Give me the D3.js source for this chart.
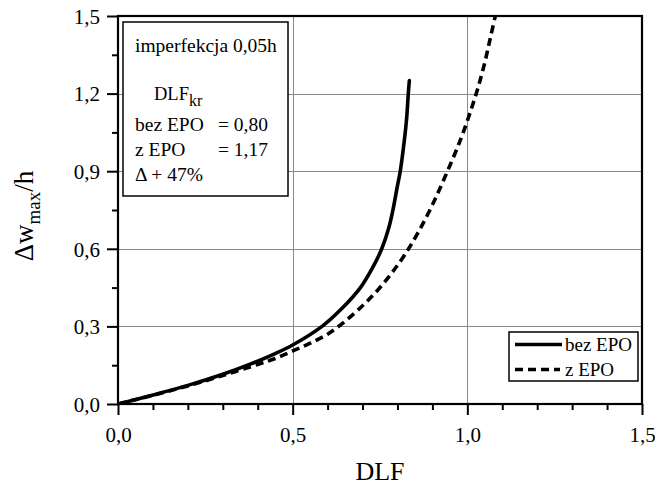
<!DOCTYPE html>
<html>
<head>
<meta charset="utf-8">
<script src="https://cdn.jsdelivr.net/npm/d3@7"></script>
<style>
  html, body { margin: 0; padding: 0; background: #fff; }
  svg { display: block; }
  svg text { font-family: "Liberation Serif", "Times New Roman", Tinos, serif; fill: #000; }
</style>
</head>
<body>
<svg id="chart" width="655" height="485"></svg>
<script>
// ---- data ----
const seriesNames = ["bez EPO", "z EPO"];
const bezEPO_x = [0, 0.1, 0.2, 0.3, 0.38, 0.45, 0.5, 0.584, 0.64, 0.694, 0.73, 0.755, 0.775, 0.787, 0.798, 0.808, 0.818, 0.826, 0.831, 0.834];
const bezEPO_y = [0, 0.035, 0.072, 0.115, 0.155, 0.195, 0.228, 0.3, 0.368, 0.45, 0.53, 0.6, 0.68, 0.75, 0.83, 0.9, 1.0, 1.1, 1.2, 1.25];
const zEPO_x = [0, 0.1, 0.2, 0.3, 0.4, 0.45, 0.5, 0.55, 0.6, 0.65, 0.7, 0.74, 0.78, 0.82, 0.86, 0.9, 0.94, 0.98, 1.01, 1.03, 1.05, 1.065, 1.08];
const zEPO_y = [0, 0.034, 0.07, 0.11, 0.153, 0.176, 0.205, 0.235, 0.27, 0.32, 0.38, 0.435, 0.5, 0.575, 0.665, 0.77, 0.89, 1.02, 1.135, 1.22, 1.32, 1.41, 1.5];
const xMajorTicks = [0, 0.5, 1.0, 1.5];
const xTickLabels = ["0,0", "0,5", "1,0", "1,5"];
const xMinorTicks = [0.1, 0.2, 0.3, 0.4, 0.6, 0.7, 0.8, 0.9, 1.1, 1.2, 1.3, 1.4];
const yMajorTicks = [0, 0.3, 0.6, 0.9, 1.2, 1.5];
const yTickLabels = ["0,0", "0,3", "0,6", "0,9", "1,2", "1,5"];
const yMinorTicks = [0.15, 0.45, 0.75, 1.05, 1.35];
const insetLines = ["imperfekcja 0,05h", "bez EPO", "= 0,80", "z EPO", "= 1,17", "\u0394 + 47%"];

// ---- layout ----
const FONT = "'Liberation Serif', 'Times New Roman', Tinos, serif";
const svg = d3.select("#chart");
const L = 118, R = 642, T = 16, B = 404;
const x = d3.scaleLinear().domain([0, 1.5]).range([L, R]);
const y = d3.scaleLinear().domain([0, 1.5]).range([B, T]);

// grid
const grid = svg.append("g").attr("stroke", "#8a8a8a").attr("stroke-width", 1);
grid.selectAll(".gx").data(xMajorTicks.filter(d => d > 0 && d < 1.5)).enter().append("line")
  .attr("x1", d => Math.round(x(d)) + 0.5).attr("x2", d => Math.round(x(d)) + 0.5)
  .attr("y1", T).attr("y2", B);
grid.selectAll(".gy").data(yMajorTicks.filter(d => d > 0 && d < 1.5)).enter().append("line")
  .attr("y1", d => Math.round(y(d)) + 0.5).attr("y2", d => Math.round(y(d)) + 0.5)
  .attr("x1", L).attr("x2", R);

// axes ticks
const xAxisMajor = d3.axisBottom(x).tickValues(xMajorTicks).tickSize(11).tickPadding(4)
  .tickFormat((d, i) => xTickLabels[i]);
const xAxisMinor = d3.axisBottom(x).tickValues(xMinorTicks).tickSize(6).tickFormat("");
const yAxisMajor = d3.axisLeft(y).tickValues(yMajorTicks).tickSize(11).tickPadding(5)
  .tickFormat((d, i) => yTickLabels[i]);
const yAxisMinor = d3.axisLeft(y).tickValues(yMinorTicks).tickSize(6).tickFormat("");

function styleAxis(g) {
  g.attr("font-family", FONT);
  g.select(".domain").remove();
  g.selectAll(".tick line").attr("stroke", "#000").attr("stroke-width", 2);
  g.selectAll("text").attr("font-family", FONT).attr("font-size", 21).attr("fill", "#000");
}
svg.append("g").attr("transform", `translate(0,${B})`).call(xAxisMajor).call(styleAxis)
  .selectAll("text").attr("dy", null).attr("y", 38);
svg.append("g").attr("transform", `translate(0,${B})`).call(xAxisMinor).call(styleAxis);
svg.append("g").attr("transform", `translate(${L},0)`).call(yAxisMajor).call(styleAxis)
  .selectAll("text").attr("dy", "0.35em").attr("x", -18);
svg.append("g").attr("transform", `translate(${L},0)`).call(yAxisMinor).call(styleAxis);

// curves
const line = d3.line().x(d => x(d[0])).y(d => y(d[1])).curve(d3.curveCatmullRom.alpha(0.5));
const bezData = bezEPO_x.map((v, i) => [v, bezEPO_y[i]]);
const zData = zEPO_x.map((v, i) => [v, zEPO_y[i]]);
svg.append("defs").append("clipPath").attr("id", "clip")
  .append("rect").attr("x", L).attr("y", T).attr("width", R - L).attr("height", B - T);
const curves = svg.append("g").attr("clip-path", "url(#clip)");
curves.append("path").datum(bezData).attr("d", line)
  .attr("fill", "none").attr("stroke", "#000").attr("stroke-width", 3.6)
  .attr("stroke-linecap", "round");
curves.append("path").datum(zData).attr("d", line)
  .attr("fill", "none").attr("stroke", "#000").attr("stroke-width", 3.6)
  .attr("stroke-dasharray", "8,5");

// frame
svg.append("rect").attr("x", L).attr("y", T).attr("width", R - L).attr("height", B - T)
  .attr("fill", "none").attr("stroke", "#000").attr("stroke-width", 2.2);

// axis titles
svg.append("text").attr("x", (L + R) / 2).attr("y", 480).attr("text-anchor", "middle")
  .attr("font-family", FONT).attr("font-size", 26).text("DLF");
const yt = svg.append("text").attr("transform", "translate(33,216) rotate(-90)")
  .attr("text-anchor", "middle").attr("font-family", FONT).attr("font-size", 27);
yt.append("tspan").text("\u0394w");
yt.append("tspan").attr("font-size", 19).attr("dy", 7).text("max");
yt.append("tspan").attr("dy", -7).text("/h");

// inset box
svg.append("rect").attr("x", 123).attr("y", 22).attr("width", 165).attr("height", 174)
  .attr("fill", "#fff").attr("stroke", "#000").attr("stroke-width", 1.5);
const ins = svg.append("g").attr("font-size", 19.5).attr("font-family", FONT);
ins.append("text").attr("x", 135).attr("y", 52).text(insetLines[0]);
const dlf = ins.append("text").attr("x", 154).attr("y", 100).attr("font-size", 18.5);
dlf.append("tspan").text("DLF");
dlf.append("tspan").attr("font-size", 16).attr("dy", 6).text("kr");
ins.append("text").attr("x", 135).attr("y", 131).text(insetLines[1]);
ins.append("text").attr("x", 218).attr("y", 131).text(insetLines[2]);
ins.append("text").attr("x", 135).attr("y", 156).text(insetLines[3]);
ins.append("text").attr("x", 218).attr("y", 156).text(insetLines[4]);
ins.append("text").attr("x", 135).attr("y", 181).text(insetLines[5]);

// legend
const lg = svg.append("g").attr("font-family", FONT);
lg.append("rect").attr("x", 509).attr("y", 332).attr("width", 129).attr("height", 49)
  .attr("fill", "#fff").attr("stroke", "#000").attr("stroke-width", 1.5);
lg.append("line").attr("x1", 515).attr("x2", 562).attr("y1", 344.5).attr("y2", 344.5)
  .attr("stroke", "#000").attr("stroke-width", 3.6);
lg.append("line").attr("x1", 515).attr("x2", 560).attr("y1", 369.5).attr("y2", 369.5)
  .attr("stroke", "#000").attr("stroke-width", 3.6).attr("stroke-dasharray", "8,5");
lg.append("text").attr("x", 565).attr("y", 351).attr("font-size", 19).text(seriesNames[0]);
lg.append("text").attr("x", 565).attr("y", 376).attr("font-size", 19).text(seriesNames[1]);
</script>
</body>
</html>
